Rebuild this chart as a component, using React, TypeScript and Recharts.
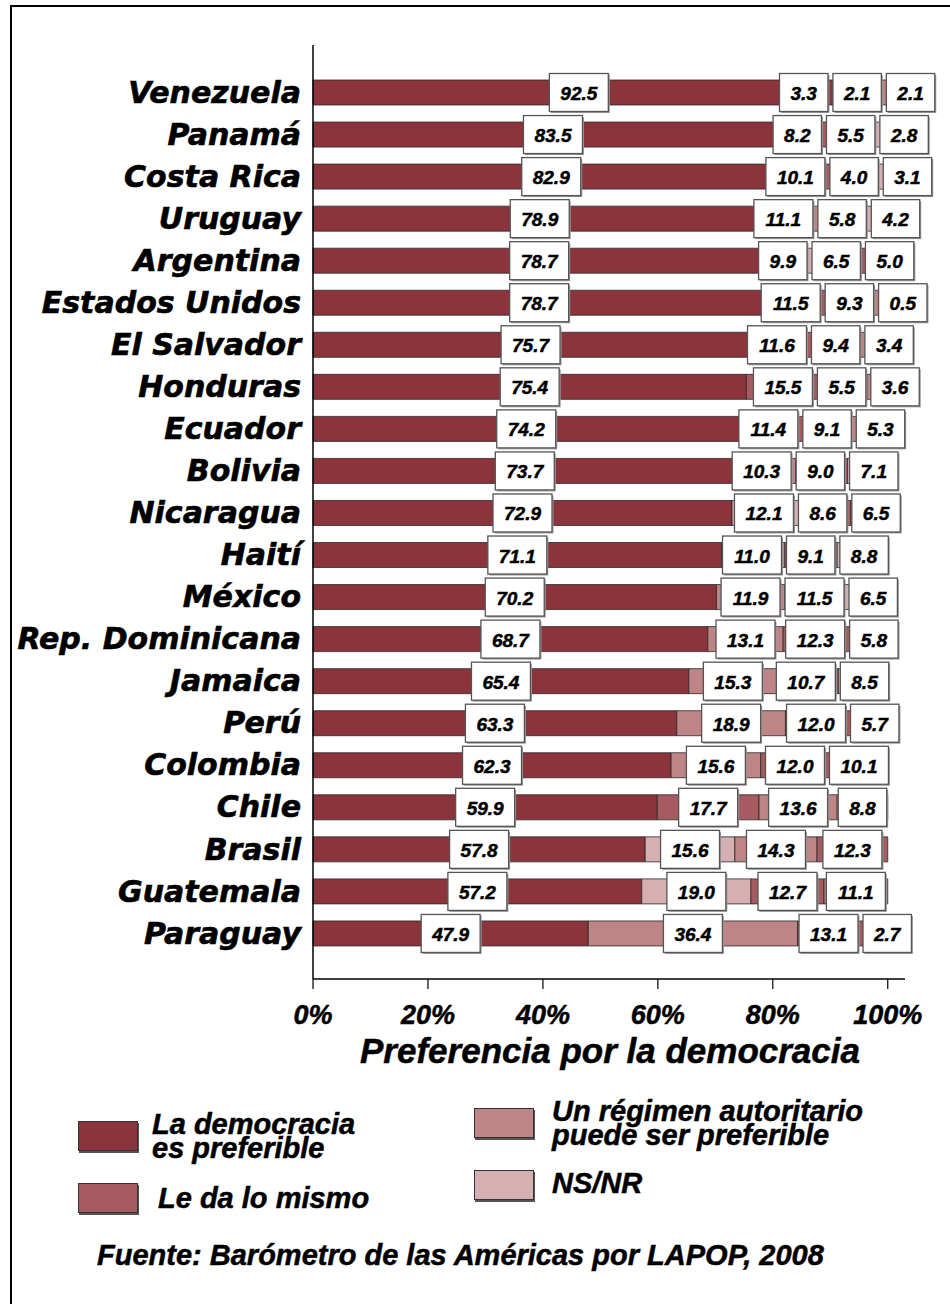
import React from "react";
import { BarChart, Bar, XAxis, YAxis, Cell, LabelList } from "recharts";

const countries = [
  "Venezuela", "Panamá", "Costa Rica", "Uruguay", "Argentina", "Estados Unidos",
  "El Salvador", "Honduras", "Ecuador", "Bolivia", "Nicaragua", "Haití", "México",
  "Rep. Dominicana", "Jamaica", "Perú", "Colombia", "Chile", "Brasil", "Guatemala", "Paraguay",
];
// first segment: la democracia es preferible
const democracia = [92.5, 83.5, 82.9, 78.9, 78.7, 78.7, 75.7, 75.4, 74.2, 73.7, 72.9, 71.1, 70.2, 68.7, 65.4, 63.3, 62.3, 59.9, 57.8, 57.2, 47.9];
// remaining segments, in the order they are stacked in each row
const seg2 = [3.3, 8.2, 10.1, 11.1, 9.9, 11.5, 11.6, 15.5, 11.4, 10.3, 12.1, 11.0, 11.9, 13.1, 15.3, 18.9, 15.6, 17.7, 15.6, 19.0, 36.4];
const seg3 = [2.1, 5.5, 4.0, 5.8, 6.5, 9.3, 9.4, 5.5, 9.1, 9.0, 8.6, 9.1, 11.5, 12.3, 10.7, 12.0, 12.0, 13.6, 14.3, 12.7, 13.1];
const seg4 = [2.1, 2.8, 3.1, 4.2, 5.0, 0.5, 3.4, 3.6, 5.3, 7.1, 6.5, 8.8, 6.5, 5.8, 8.5, 5.7, 10.1, 8.8, 12.3, 11.1, 2.7];
// which answer each segment is: M = le da lo mismo, A = autoritario, N = NS/NR
const seg2Cat = ["M", "M", "M", "A", "N", "M", "M", "M", "M", "A", "N", "A", "A", "A", "A", "A", "A", "M", "N", "N", "A"];
const seg3Cat = ["N", "A", "A", "M", "A", "A", "A", "N", "A", "M", "M", "M", "N", "M", "M", "M", "M", "A", "A", "M", "M"];
const seg4Cat = ["A", "N", "N", "N", "M", "N", "N", "A", "N", "N", "A", "N", "M", "N", "N", "N", "N", "N", "M", "A", "N"];

const xTicks = [0, 20, 40, 60, 80, 100];

const legendItems = [
  { cat: "D", text: "La democracia\nes preferible" },
  { cat: "M", text: "Le da lo mismo" },
  { cat: "A", text: "Un régimen autoritario\npuede ser preferible" },
  { cat: "N", text: "NS/NR" },
];

const COLORS: Record<string, string> = {
  D: "#8C343C",
  M: "#A65B60",
  A: "#BE8486",
  N: "#D6AFB3",
};

const data = countries.map((c, i) => ({
  country: c,
  s1: democracia[i],
  s2: seg2[i],
  s3: seg3[i],
  s4: seg4[i],
}));

const LABEL_FS = 19;
const arial = "'Liberation Sans', Arial, sans-serif";
const dejavu = "'DejaVu Sans', Verdana, sans-serif";

function textWidth(s: string) {
  let w = 0;
  for (const ch of s) w += ch === "." ? 0.278 : 0.556;
  return w * LABEL_FS;
}

// draws the four value boxes of a row, pushed apart so they don't overlap
function RowLabels(props: any) {
  const { x, y, width, height, index } = props;
  const vals = [democracia[index], seg2[index], seg3[index], seg4[index]];
  const ppu = width / seg4[index];
  const total = vals.reduce((a, b) => a + b, 0);
  const start = x + width - total * ppu;
  const cy = y + height / 2;
  let acc = 0;
  const items = vals.map((v) => {
    const p = start + (acc + v / 2) * ppu;
    acc += v;
    const t = v.toFixed(1);
    return { t, w: textWidth(t) + 22, p };
  });
  const gap = 5;
  for (let k = 0; k < 200; k++) {
    let moved = false;
    for (let i = 0; i < items.length - 1; i++) {
      const a = items[i];
      const b = items[i + 1];
      const ov = a.p + a.w / 2 + gap - (b.p - b.w / 2);
      if (ov > 0.01) {
        a.p -= ov / 2;
        b.p += ov / 2;
        moved = true;
      }
    }
    if (!moved) break;
  }
  const limit = start + 100 * ppu + 47;
  const last = items[items.length - 1];
  if (last.p + last.w / 2 > limit) {
    last.p = limit - last.w / 2;
    for (let i = items.length - 2; i >= 0; i--) {
      const a = items[i];
      const b = items[i + 1];
      const ov = a.p + a.w / 2 + gap - (b.p - b.w / 2);
      if (ov > 0) a.p -= ov;
    }
  }
  const bh = 38;
  return (
    <g>
      {items.map((it, i) => (
        <g key={i}>
          <rect x={it.p - it.w / 2 + 1.5} y={cy - bh / 2 + 1.5} width={it.w} height={bh} fill="#9a9a9a" />
          <rect x={it.p - it.w / 2} y={cy - bh / 2} width={it.w} height={bh} fill="#fff" stroke="#555" strokeWidth={1.3} />
          <text
            x={it.p}
            y={cy + 1}
            textAnchor="middle"
            dominantBaseline="central"
            fontFamily={arial}
            fontWeight="bold"
            fontStyle="italic"
            fontSize={LABEL_FS}
            fill="#000"
            stroke="#000"
            strokeWidth={0.5}
          >
            {it.t}
          </text>
        </g>
      ))}
    </g>
  );
}

const textBase: React.CSSProperties = {
  position: "absolute",
  fontFamily: arial,
  fontWeight: "bold",
  fontStyle: "italic",
  color: "#000",
  whiteSpace: "pre",
  WebkitTextStroke: "0.5px #000",
};

export default function App() {
  return (
    <div style={{ position: "absolute", left: 0, top: 0, width: 950, height: 1304, overflow: "hidden", background: "#fff" }}>
      <div style={{ position: "absolute", left: 10, top: 5, width: 960, height: 1320, border: "2px solid #000", boxSizing: "border-box" }} />

      <div style={{ position: "absolute", left: 0, top: 0 }}>
        <BarChart
          width={950}
          height={1050}
          data={data}
          layout="vertical"
          margin={{ top: 45, right: 45, bottom: 0, left: 0 }}
          barSize={25}
        >
          <XAxis
            type="number"
            domain={[0, 103]}
            ticks={xTicks}
            tickFormatter={(v) => `${v}%`}
            height={71}
            axisLine={{ stroke: "#000", strokeWidth: 1.5 }}
            tickLine={{ stroke: "#000", strokeWidth: 1.2 }}
            tickSize={10}
            tickMargin={16}
            tick={{ fill: "#000", stroke: "#000", strokeWidth: 0.5, fontSize: 27, fontFamily: arial, fontWeight: "bold", fontStyle: "italic" }}
          />
          <YAxis
            type="category"
            dataKey="country"
            width={313}
            interval={0}
            padding={{ top: 26, bottom: 25 }}
            axisLine={{ stroke: "#000", strokeWidth: 1.5 }}
            tickLine={false}
            tickSize={0}
            tickMargin={12}
            tick={{ fill: "#000", stroke: "#000", strokeWidth: 0.6, fontSize: 30, fontFamily: dejavu, fontWeight: "bold", fontStyle: "italic" }}
          />
          <Bar dataKey="s1" stackId="a" fill={COLORS.D} stroke="#2a2a2a" strokeWidth={0.8} isAnimationActive={false} />
          <Bar dataKey="s2" stackId="a" stroke="#2a2a2a" strokeWidth={0.8} isAnimationActive={false}>
            {seg2Cat.map((c, i) => (
              <Cell key={i} fill={COLORS[c]} />
            ))}
          </Bar>
          <Bar dataKey="s3" stackId="a" stroke="#2a2a2a" strokeWidth={0.8} isAnimationActive={false}>
            {seg3Cat.map((c, i) => (
              <Cell key={i} fill={COLORS[c]} />
            ))}
          </Bar>
          <Bar dataKey="s4" stackId="a" stroke="#2a2a2a" strokeWidth={0.8} isAnimationActive={false}>
            {seg4Cat.map((c, i) => (
              <Cell key={i} fill={COLORS[c]} />
            ))}
            <LabelList dataKey="s4" content={RowLabels} />
          </Bar>
        </BarChart>
      </div>

      <div style={{ ...textBase, left: 360, top: 1031, fontSize: 35, lineHeight: "40px" }}>
        Preferencia por la democracia
      </div>

      {legendItems.map((it, i) => {
        const col = i < 2 ? 0 : 1;
        const row = i % 2;
        const boxLeft = col === 0 ? 78 : 474;
        const boxTop = col === 0 ? (row === 0 ? 1121 : 1183) : row === 0 ? 1108 : 1170;
        const textLeft = col === 0 ? (row === 0 ? 152 : 158) : 552;
        const textTop = col === 0 ? (row === 0 ? 1112 : 1186) : row === 0 ? 1099 : 1171;
        return (
          <React.Fragment key={it.cat}>
            <div
              style={{
                position: "absolute",
                left: boxLeft,
                top: boxTop,
                width: 60,
                height: 30,
                background: COLORS[it.cat],
                border: "1px solid #333",
                boxShadow: "1px 2px 0 #555",
                boxSizing: "border-box",
              }}
            />
            <div style={{ ...textBase, left: textLeft, top: textTop, fontSize: 29, lineHeight: "24px" }}>{it.text}</div>
          </React.Fragment>
        );
      })}

      <div style={{ ...textBase, left: 97, top: 1243, fontSize: 29, lineHeight: "24px" }}>
        Fuente: Barómetro de las Américas por LAPOP, 2008
      </div>
    </div>
  );
}
